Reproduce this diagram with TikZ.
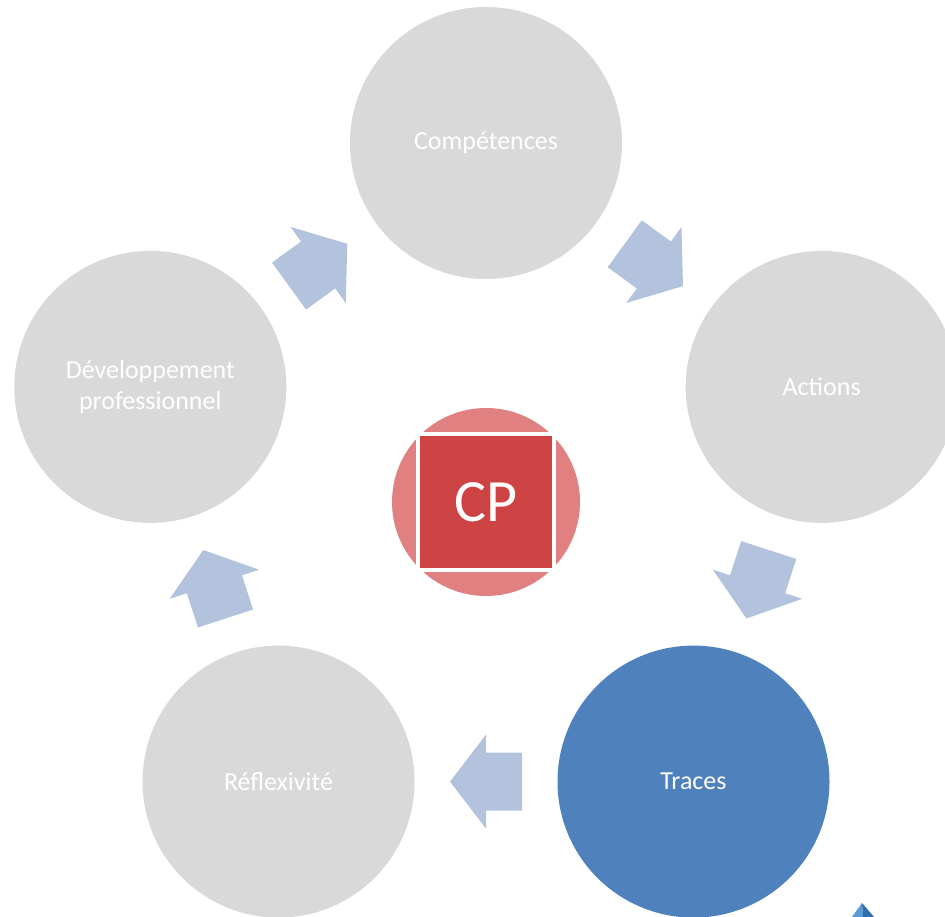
\documentclass[tikz,border=0pt]{standalone}
\usepackage{fontspec}
\setmainfont{Carlito}
\usetikzlibrary{calc}
\definecolor{cgray}{HTML}{D9D9D9}
\definecolor{cblue}{HTML}{4F81BD}
\definecolor{carrow}{HTML}{B3C3DE}
\definecolor{cpcirc}{HTML}{E08080}
\definecolor{cpsq}{HTML}{CD4242}
\definecolor{icolA}{HTML}{5A9AD6}
\definecolor{icolB}{HTML}{2F6DB0}
\tikzset{
  stagenode/.style={circle, minimum size=272pt, inner sep=0pt, fill=cgray, text=white,
    font=\fontsize{26}{31.5}\selectfont, align=center},
  arrowfill/.style={fill=carrow, draw=none},
}
\newcommand{\blockarrow}[2]{%
  \coordinate (m) at ($(#1)!0.5!(#2)$);
  \coordinate (t) at ($(m)!36pt!(#2)$);
  \coordinate (s) at ($(m)!-36pt!(#2)$);
  \fill[arrowfill] (t) -- ($(m)!47pt!90:(t)$) -- ($(m)!29pt!90:(t)$)
    -- ($(s)!29pt!90:(m)$) -- ($(s)!29pt!-90:(m)$)
    -- ($(m)!29pt!-90:(t)$) -- ($(m)!47pt!-90:(t)$) -- cycle;}
\begin{document}
\begin{tikzpicture}[x=1pt,y=-1pt]
\useasboundingbox (0,0) rectangle (945,917);
\clip (0,0) rectangle (945,917);
\fill[white] (0,0) rectangle (945,917);
\node[stagenode] (comp) at (486,143) {Compétences};
\node[stagenode] (act) at (821.7,386.9) {Actions};
\node[stagenode, fill=cblue] (tra) at (693.5,781.6) {Traces};
\node[stagenode] (ref) at (278.5,781.6) {Réflexivité};
\node[stagenode] (dev) at (150.3,386.9) {Développement\\professionnel};
\blockarrow{comp}{act}
\blockarrow{act}{tra}
\blockarrow{tra}{ref}
\blockarrow{ref}{dev}
\blockarrow{dev}{comp}
\node[circle, minimum size=188pt, inner sep=0pt, fill=cpcirc] (cpc) at (486,502) {};
\node[rectangle, minimum size=136pt, inner sep=0pt, fill=cpsq, draw=white, line width=4pt,
  text=white, font=\fontsize{60}{60}\selectfont] (cp) at (486,502) {CP};
\fill[icolA] (862,903) -- (852,917) -- (863,917) -- cycle;
\fill[icolB] (862,903) -- (863,917) -- (874,917) -- cycle;
\end{tikzpicture}
\end{document}
